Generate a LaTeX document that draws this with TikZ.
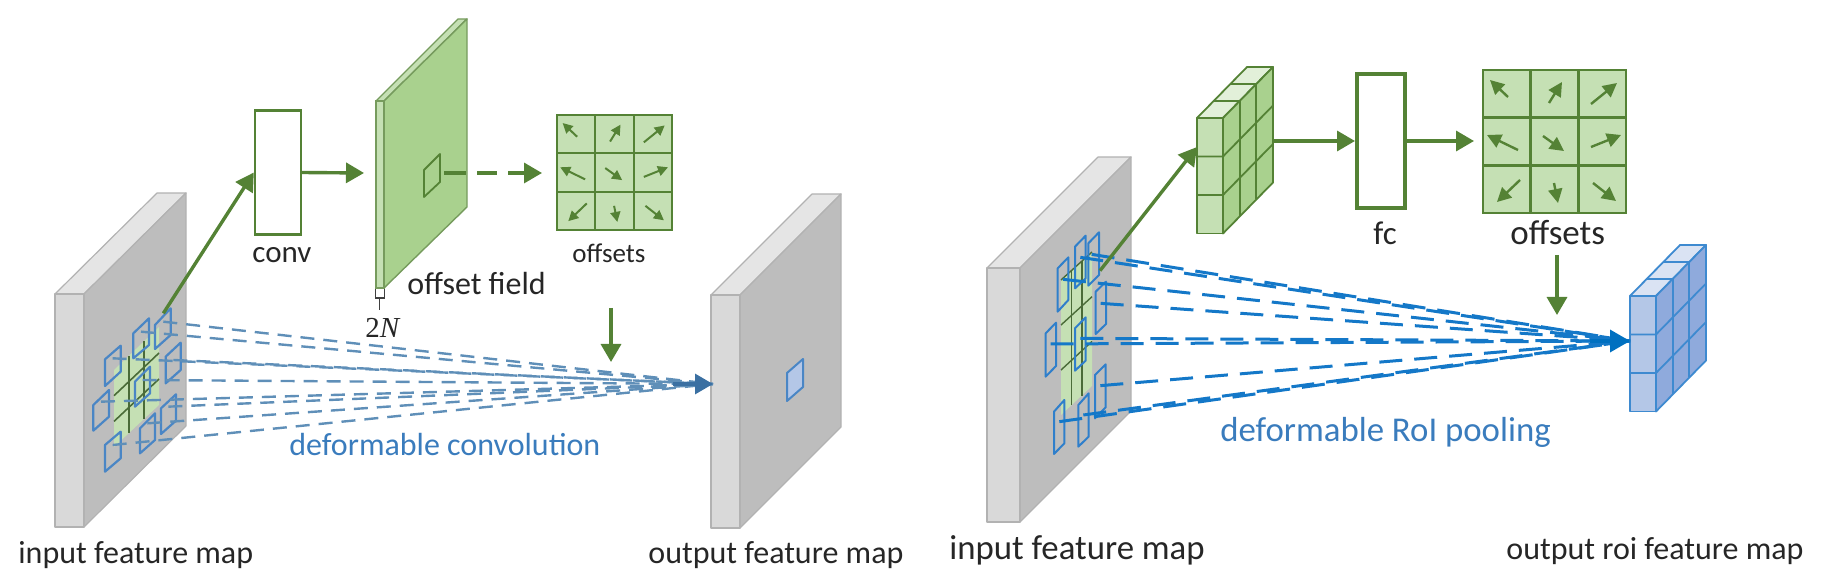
\documentclass[tikz,border=0pt]{standalone}
\usepackage[no-math]{fontspec}
\setmainfont{Carlito}
\newfontfamily\serf{Liberation Serif}
\usetikzlibrary{arrows.meta,calc}
\definecolor{gline}{HTML}{548235}
\definecolor{gfront}{HTML}{C5E0B4}
\definecolor{gside}{HTML}{A9D18E}
\definecolor{gtop}{HTML}{E2F0D9}
\definecolor{bfront}{HTML}{B4C7E7}
\definecolor{bside}{HTML}{8FAADC}
\definecolor{btop}{HTML}{DAE3F3}
\definecolor{bedge}{HTML}{3E8AD0}
\definecolor{rectblue}{HTML}{4A86C5}
\definecolor{rectblueb}{HTML}{2F7FCB}
\definecolor{lineL}{HTML}{5F8FB8}
\definecolor{headL}{HTML}{3B70A2}
\definecolor{lineR}{HTML}{1478C8}
\definecolor{headR}{HTML}{0070C0}
\definecolor{txtblue}{HTML}{3A7CBD}
\definecolor{griddark}{HTML}{4A6B38}
\tikzset{
  garrow/.style={draw=gline,line width=1.7pt,-{Triangle[length=9pt,width=10pt,fill=gline]}},
  slabfront/.style={fill=#1,draw=black!32,line width=.6pt,line join=round},
  lbl/.style={anchor=base west,inner sep=0pt,text=black!85},
  rectL/.style={draw=rectblue,line width=1.1pt,line join=round},
  rectR/.style={draw=rectblueb,line width=1pt,line join=round},
  dashL/.style={draw=lineL,line width=1.2pt,dash pattern=on 7pt off 4.5pt},
  dashR/.style={draw=lineR,line width=1.5pt,dash pattern=on 11.5pt off 6pt},
}
\newcommand{\slab}[6]{%
  \fill[slabfront=black!10,draw=black!30] (#1+#5,#3-#6) -- (#2+#5,#3-#6) -- (#2,#3) -- (#1,#3) -- cycle;
  \fill[slabfront=black!26,draw=black!30] (#2,#3) -- (#2+#5,#3-#6) -- (#2+#5,#4-#6) -- (#2,#4) -- cycle;
  \fill[slabfront=black!15,draw=black!30] (#1,#3) rectangle (#2,#4);
}
\newcommand{\cubewall}[6]{%
  \begin{scope}[shift={(#1,#2)},line width=.9pt,draw=#6,line join=round]
    \filldraw[fill=#5,draw=#6] (0,0) -- (26,0) -- (76,-51) -- (50,-51) -- cycle;
    \filldraw[fill=#4,draw=#6] (26,0) -- (76,-51) -- (76,64.5) -- (26,115.5) -- cycle;
    \filldraw[fill=#3,draw=#6] (0,0) rectangle (26,115.5);
    \foreach \k in {1,2}{
      \draw[#6] (0,\k*38.5) -- (26,\k*38.5) -- (76,\k*38.5-51);
      \draw[#6] (26+\k*16.67,-\k*17) -- (26+\k*16.67,115.5-\k*17);
      \draw[#6] (\k*16.67,-\k*17) -- (26+\k*16.67,-\k*17);
    }
  \end{scope}
}
\newcommand{\offgrid}[6]{%
  \begin{scope}[shift={(#1,#2)},scale=#3]
    \fill[gfront] (0,0) rectangle (143,143);
    \draw[draw=gline,line width=#6] (0,0) rectangle (143,143);
    \foreach \k in {1,2}{
      \draw[draw=gline,line width=#6] (\k*47.67,0) -- (\k*47.67,143);
      \draw[draw=gline,line width=#6] (0,\k*47.67) -- (143,\k*47.67);
    }
    \foreach \ax/\ay/\bx/\by in {25/27/7/10,66/33/79/12,108/34/134/13,35/80/4/65,60/66/81/81,108/77/138/65,37/110/14/132,71/113/75/133,110/113/133/131}{
      \draw[draw=gline,line width=#5,-{Triangle[length=#4,width=#4,fill=gline]}] (\ax,\ay) -- (\bx,\by);
    }
  \end{scope}
}
\newcommand{\rectq}[7]{\draw[#1] (#2,#4) -- (#2,#5) -- (#3,#6) -- (#3,#7) -- cycle;}
\begin{document}
\begin{tikzpicture}[x=.5pt,y=-.5pt]
\useasboundingbox (0,0) rectangle (1843,577);
% ---------- left part ----------
\slab{55}{84}{294}{527}{102}{101}
\fill[gfront] (114,447) -- (114,370) -- (159,327) -- (159,405) -- cycle;
\foreach \k in {1,2}{
  \draw[draw=griddark,line width=.8pt] (114,370+\k*25.7) -- (159,327+\k*26);
  \draw[draw=griddark,line width=.8pt] (114+\k*15,370-\k*14.3) -- (114+\k*15,447-\k*14);
}
\begin{scope}[shift={(30,150)},scale=1/3]
  \rectq{rectL}{225}{272}{708}{628}{587}{665}
  \rectq{rectL}{310}{357}{625}{550}{505}{585}
  \rectq{rectL}{375}{422}{597}{525}{475}{555}
  \rectq{rectL}{407}{452}{700}{620}{578}{660}
  \rectq{rectL}{315}{360}{770}{695}{650}{730}
  \rectq{rectL}{190}{237}{842}{765}{720}{800}
  \rectq{rectL}{393}{438}{852}{775}{733}{812}
  \rectq{rectL}{330}{375}{910}{835}{790}{870}
  \rectq{rectL}{225}{272}{965}{885}{845}{925}
  \coordinate (l1) at (248,625);
  \coordinate (l2) at (333,545);
  \coordinate (l3) at (400,515);
  \coordinate (l4) at (430,630);
  \coordinate (l5) at (338,690);
  \coordinate (l6) at (213,755);
  \coordinate (l7) at (415,770);
  \coordinate (l8) at (352,820);
  \coordinate (l9) at (248,885);
  \coordinate (lfrom) at (400,490);
\end{scope}
\slab{711}{740}{295}{528}{101}{101}
\coordinate (outL) at (713,384);
\filldraw[fill=bfront,draw=rectblue,line width=1pt,line join=round] (787,401) -- (787,373) -- (803,359) -- (803,387) -- cycle;
\foreach \k in {1,...,9}{ \draw[dashL] (l\k) -- (outL); }
\draw[draw=headL,line width=1.6pt,-{Triangle[length=9pt,width=10pt,fill=headL]}] ($(outL)+(-40,0)$) -- (outL);
\node[draw=gline,line width=1.2pt,fill=white,minimum width=23pt,minimum height=62pt,inner sep=0pt] (conv) at (278,172.5) {};
\draw[garrow] (lfrom) -- (conv.west);
\filldraw[fill=gfront,draw=gline!80,line width=.7pt,line join=round] (376,101) -- (458,19) -- (467,19) -- (384,101) -- cycle;
\filldraw[fill=gside,draw=gline!80,line width=.7pt,line join=round] (384,101) -- (467,19) -- (467,207) -- (384,288) -- cycle;
\filldraw[fill=gfront,draw=gline!80,line width=.7pt] (376,101) rectangle (384,288);
\draw[draw=gline,line width=.9pt,line join=round] (424,197) -- (424,170) -- (440,154) -- (440,182) -- cycle;
\coordinate (fieldL) at (364,173);
\coordinate (holeR) at (444,173);
\draw[garrow] (conv.east) -- (fieldL);
\coordinate (gridL) at (542,173);
\draw[garrow,dash pattern=on 11pt off 5.5pt on 10pt off 5.5pt on 20pt off 20pt] (holeR) -- (gridL);
\offgrid{557}{115}{.804}{5pt}{1pt}{.9pt}
\coordinate (brk) at (379.5,298);
\draw[draw=black!75,line width=.8pt] (375.5,289) -- (375.5,298) -- (384.5,298) -- (384.5,289);
\coordinate (brkend) at (379.5,310);
\draw[draw=black!75,line width=.8pt] (brk) -- (brkend);
\node[lbl] (twon) at (365,337) {\fontsize{14.5}{16}\serf 2\textit{N}};
\coordinate (offA) at (611,308);
\coordinate (offB) at (611,362);
\draw[garrow] (offA) -- (offB);
% ---------- right part ----------
\slab{987}{1020}{268}{522}{111}{111}
\fill[gfront] (1061,415) -- (1061,280) -- (1092,252) -- (1092,386) -- cycle;
\draw[draw=griddark,line width=.7pt] (1061,280) -- (1092,252);
\foreach \k in {1,2}{
  \draw[draw=griddark,line width=.7pt] (1061,280+\k*45) -- (1092,252+\k*44.7);
  \draw[draw=griddark,line width=.7pt] (1061+\k*10.5,280-\k*9.3) -- (1061+\k*10.5,415-\k*9.7);
}
\begin{scope}[shift={(960,120)},scale=1/3]
  \rectq{rectR}{293}{325}{575}{445}{412}{540}
  \rectq{rectR}{345}{377}{505}{380}{347}{475}
  \rectq{rectR}{385}{417}{497}{370}{337}{465}
  \rectq{rectR}{407}{438}{642}{515}{485}{612}
  \rectq{rectR}{345}{377}{752}{625}{592}{722}
  \rectq{rectR}{257}{288}{770}{640}{608}{738}
  \rectq{rectR}{405}{437}{895}{765}{733}{862}
  \rectq{rectR}{355}{386}{980}{855}{820}{950}
  \rectq{rectR}{282}{313}{1002}{875}{840}{970}
  \coordinate (r1) at (309,478);
  \coordinate (r2) at (361,412);
  \coordinate (r3) at (395,403);
  \coordinate (r4) at (422,550);
  \coordinate (r5) at (361,655);
  \coordinate (r6) at (272,672);
  \coordinate (r7) at (421,797);
  \coordinate (r8) at (370,885);
  \coordinate (r9) at (298,905);
  \coordinate (rfrom) at (420,452);
\end{scope}
\cubewall{1197}{118}{gfront}{gside}{gtop}{gline}
\cubewall{1630}{296}{bfront}{bside}{btop}{bedge}
\coordinate (outR) at (1630,341);
\foreach \k in {1,...,9}{ \draw[dashR] (r\k) -- (outR); }
\draw[draw=headR,line width=1.8pt,-{Triangle[length=10pt,width=11pt,fill=headR]}] ($(outR)+(-40,0)$) -- (outR);
\coordinate (wallL) at (1197,147);
\draw[garrow] (rfrom) -- (wallL);
\coordinate (wallR) at (1273,141);
\node[draw=gline,line width=2pt,fill=white,minimum width=24pt,minimum height=67pt,inner sep=0pt] (fc) at (1381,141) {};
\draw[garrow] (wallR) -- (fc.west);
\coordinate (gridR) at (1474,141);
\draw[garrow] (fc.east) -- (gridR);
\offgrid{1483}{70}{1}{7pt}{1.2pt}{1.4pt}
\coordinate (offC) at (1557,255);
\coordinate (offD) at (1557,315);
\draw[garrow] (offC) -- (offD);
% ---------- labels ----------
\node[lbl] (t1) at (18,563) {\fontsize{16}{18}\selectfont input feature map};
\node[lbl] (t2) at (648,563) {\fontsize{16}{18}\selectfont output feature map};
\node[lbl] (t3) at (252,263) {\fontsize{15.5}{17}\selectfont conv};
\node[lbl] (t4) at (407,295) {\fontsize{16}{17}\selectfont offset field};
\node[lbl] (t5) at (572,263) {\fontsize{13.5}{17}\selectfont offsets};
\node[lbl,text=txtblue] (t6) at (289,455) {\fontsize{16}{18}\selectfont deformable convolution};
\node[lbl] (t7) at (949,559) {\fontsize{17.4}{19}\selectfont input feature map};
\node[lbl] (t8) at (1506,559) {\fontsize{16}{19}\selectfont output roi feature map};
\node[lbl] (t9) at (1373,245) {\fontsize{16.5}{19}\selectfont fc};
\node[lbl] (t10) at (1510,245) {\fontsize{17.5}{20}\selectfont offsets};
\node[lbl,text=txtblue] (t11) at (1220,441) {\fontsize{17.4}{19}\selectfont deformable RoI pooling};
\end{tikzpicture}
\end{document}
